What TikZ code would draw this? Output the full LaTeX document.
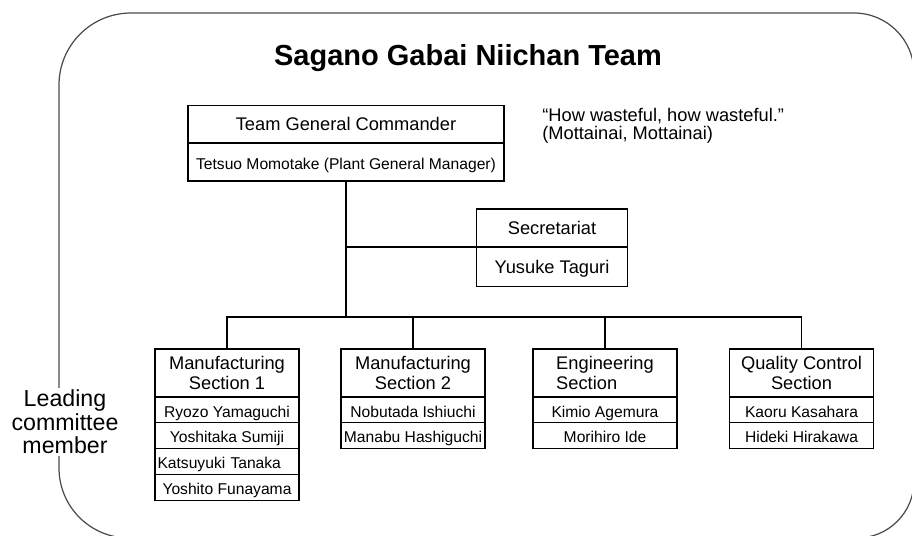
\documentclass[tikz,border=0pt]{standalone}
\usepackage{fontspec}
\setmainfont{Liberation Sans}
\usetikzlibrary{positioning}

\begin{document}
\begin{tikzpicture}[x=0.02cm, y=-0.02cm,
    box/.style={draw, line width=0.75pt, outer sep=0pt, inner xsep=1pt, inner ysep=0pt, align=center},
    head/.style={box, font=\fontsize{10.4}{11.7}\selectfont},
    oneline/.style={head, text height=7.5pt, text depth=0pt},
    who/.style={box, font=\fontsize{8.9}{10}\selectfont, text height=8.6pt, text depth=0.3pt},
    sect/.style={head, minimum width=2.88cm, minimum height=0.96cm},
    mem/.style={who, minimum width=2.88cm, minimum height=0.516cm},
    link/.style={line width=0.75pt}]
            \useasboundingbox (0,0) rectangle (912,535);
            \begin{scope}
                \clip (0,0) rectangle (912,535);
                \draw[black!70, line width=0.7pt] (59,85) arc[start angle=180, end angle=270, radius=72]
                    -- (854,13) arc[start angle=270, end angle=360, radius=60]
                    -- (914,481) arc[start angle=0, end angle=90, radius=57]
                    -- (129,538) arc[start angle=90, end angle=180, radius=70] -- cycle;
            \end{scope}
            \node[fill=white, inner sep=1pt, align=center, font=\fontsize{13.2}{13.4}\selectfont] (lead) at (65,422) {Leading\\committee\\member};
            \node[anchor=base, font=\bfseries\fontsize{16.5}{20}\selectfont] (title) at (468,65) {Sagano Gabai Niichan Team};
            \node[anchor=west, inner sep=0pt, align=left, font=\fontsize{10.4}{10}\selectfont] (motto) at (542,126) {“How wasteful, how wasteful.”\\(Mottainai, Mottainai)};

            \node[oneline, minimum width=6.32cm, minimum height=0.754cm] (cmd) at (346,124) {Team General Commander};
            \node[who, minimum width=6.32cm, minimum height=0.76cm, below=0pt of cmd] (cmdname) {Tetsuo Momotake (Plant General Manager)};
            \node[oneline, minimum width=3.03cm, minimum height=0.76cm] (sec) at (552,228) {Secretariat};
            \node[oneline, minimum width=3.03cm, minimum height=0.79cm, below=0pt of sec] (secname) {Yusuke Taguri};

            \node[sect] (mfa) at (227,373) {Manufacturing\\Section 1};
            \node[mem, below=0pt of mfa] (mfa1) {Ryozo Yamaguchi};
            \node[mem, below=0pt of mfa1] (mfa2) {Yoshitaka Sumiji};
            \node[mem, below=0pt of mfa2, text width=2.78cm, align=left, inner xsep=0.05cm] (mfa3) {Katsuyuki Tanaka};
            \node[mem, below=0pt of mfa3] (mfa4) {Yoshito Funayama};
            \node[sect] (mfb) at (413,373) {Manufacturing\\Section 2};
            \node[mem, below=0pt of mfb] (mfb1) {Nobutada Ishiuchi};
            \node[mem, below=0pt of mfb1] (mfb2) {Manabu Hashiguchi};
            \node[sect, align=left] (eng) at (605,373) {Engineering\\Section};
            \node[mem, below=0pt of eng] (eng1) {Kimio Agemura};
            \node[mem, below=0pt of eng1] (eng2) {Morihiro Ide};
            \node[sect] (qc) at (801.5,373) {Quality Control\\Section};
            \node[mem, below=0pt of qc] (qc1) {Kaoru Kasahara};
            \node[mem, below=0pt of qc1] (qc2) {Hideki Hirakawa};

            \coordinate (split) at (cmdname.south |- 0,317);
            \draw[link] (cmdname.south) -- (split);
            \draw[link] (secname.north west) -- (secname.north west -| split);
            \draw[link] (mfa.north) |- (split) -| (qc.north);
            \draw[link] (mfb.north) -- (mfb.north |- split);
            \draw[link] (eng.north) -- (eng.north |- split);
        \end{tikzpicture}
\end{document}
